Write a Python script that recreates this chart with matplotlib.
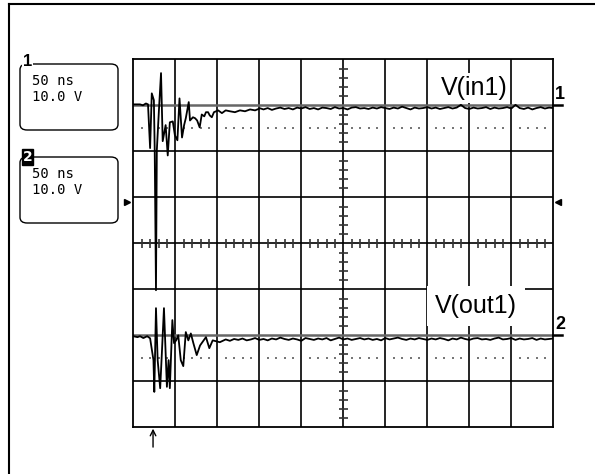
import numpy as np
import matplotlib.pyplot as plt
from matplotlib.patches import FancyBboxPatch
from matplotlib.lines import Line2D

W, H = 595, 474

# scope settings
time_div = 50      # ns / div
volt_div = 10.0    # V / div
n_xdiv = 10
n_ydiv = 8
ch1_offset = 30.0  # V (3 div above centre)
ch2_offset = -20.0 # V (2 div below centre)
ch_labels = ["V(in1)", "V(out1)"]
box_lines = ["50 ns", "10.0 V"]

# channel 1 : ringing part (ns, V)
t1_head = [0, 8, 11.5, 15, 17.5, 20, 22, 24.5, 25.5, 27, 28, 30.5, 33, 35, 38.5,
           41, 43.5, 47, 49.5, 52.5, 55, 58, 60.5, 62.5, 66, 67.5, 71, 73.5, 76,
           79, 81.5, 84.5, 86.5, 89, 91, 93.5, 96, 101, 105.5, 110, 115, 121,
           127, 133, 139, 145, 151]
v1_head = [0.2, 0.2, 0.0, 0.4, 0.2, -9.3, 2.6, 1.1, -9.8, -40.2, -9.8, -1.1, 7.0,
           -7.8, -4.3, -10.9, -3.7, -3.5, -6.5, -7.6, 1.5, -7.0, -4.3, -2.8, 0.7,
           -3.3, -2.6, -2.8, -3.3, -4.8, -2.0, -2.4, -1.5, -1.5, -2.2, -2.6, -1.5,
           -1.1, -1.7, -1.1, -1.3, -1.5, -1.1, -1.3, -0.9, -1.1, -0.65]
# channel 1 : settled part, 5 ns samples from 155 ns
v1_tail = [-0.9, -0.6, -1.0, -0.7, -0.5, -0.8, -0.6, -0.9, -0.5, -0.7,
           -0.4, -0.8, -0.6, -0.9, -0.5, -0.6, -0.8, -0.4, -0.7, -0.6,
           -0.9, -0.5, -0.4, -0.7, -0.6, -0.8, -0.5, -0.7, -0.4, -0.6,
           -0.8, -0.5, -0.7, -0.3, -0.6, -0.9, -0.5, -0.7, -0.6, -0.4,
           -0.7, -0.5, -0.8, -0.6, -0.4, -0.7, -0.5, 0.1, -0.6, -0.8,
           -0.5, -0.7, -0.6, -0.4, -0.8, -0.5, -0.7, -0.6, -0.4, -0.7,
           0.1, -0.6, -0.8, -0.5, -0.9, -0.6, -0.4, -0.7, -0.5, -0.6]

# channel 2 : ringing part
t2_head = [0, 5, 8, 12, 16.5, 20, 24, 25, 27, 29, 32, 34, 36.5, 40, 42, 43.5,
           46.5, 48.5, 51, 53.5, 56.5, 59.5, 62.5, 65.5, 68.5, 71.5, 75.5, 79.5,
           86.5, 90.5, 94.5, 103]
v2_head = [-0.2, -0.4, -0.2, -0.6, -0.2, -0.65, -5.4, -12.3, 5.9, -5.4, -11.5,
           -3.9, 5.9, -11.2, -5.4, -11.5, 3.3, -1.7, -1.1, 0.0, -5.4, -6.7, 0.7,
           -1.1, 0.4, -1.7, -4.3, -2.2, -0.4, -2.8, -1.1, -1.5]
# channel 2 : settled part, 5 ns samples from 110 ns
v2_tail = [-0.9, -1.2, -0.8, -1.0, -0.7, -1.1, -0.9, -0.6, -1.0, -0.8,
           -1.1, -0.7, -0.9, -0.5, -0.8, -1.0, -0.7, -0.9, -1.2, -0.6,
           -0.8, -1.0, -0.7, -0.9, -0.6, -1.1, -0.8, -0.5, -0.9, -0.7,
           -1.0, -0.8, -0.6, -0.9, -0.7, -1.0, -0.8, -1.1, -0.6, -0.9,
           -0.7, -0.5, -0.8, -1.0, -0.7, -0.9, -0.6, -0.8, -1.0, -0.7,
           -0.9, -0.6, -0.8, -1.1, -0.7, -0.9, -0.5, -0.8, -1.0, -0.7,
           -0.6, -0.9, -0.8, -1.0, -0.7, -0.5, -0.9, -0.8, -0.6, -1.0,
           -0.7, -0.9, -0.8, -0.6, -1.0, -0.7, -0.9, -0.8, -0.7]

t1 = np.concatenate([t1_head, np.arange(len(v1_tail)) * 5 + 155])
v1 = np.concatenate([v1_head, v1_tail]) + ch1_offset
t2 = np.concatenate([t2_head, np.arange(len(v2_tail)) * 5 + 110])
v2 = np.concatenate([v2_head, v2_tail]) + ch2_offset

xmax = time_div * n_xdiv
ymax = volt_div * n_ydiv / 2


def fx(px):
    return px / W


def fy(py):
    return 1 - py / H


fig = plt.figure(figsize=(W / 100, H / 100), dpi=100)

# outer frame (only top/left visible)
fig.add_artist(Line2D([fx(9), fx(595)], [fy(4), fy(4)], color='black', lw=1.5))
fig.add_artist(Line2D([fx(9), fx(9)], [fy(4), fy(474)], color='black', lw=1.5))

ax = fig.add_axes([fx(133.3), fy(427.3), 420 / W, 368 / H])
ax.set_xlim(0, xmax)
ax.set_ylim(-ymax, ymax)
ax.set_xticks([])
ax.set_yticks([])
for s in ax.spines.values():
    s.set_linewidth(1.3)
    s.set_zorder(6)

# graticule
for x in np.arange(time_div, xmax, time_div):
    ax.axvline(x, color='black', lw=1.2, zorder=1)
for y in np.arange(-ymax + volt_div, ymax, volt_div):
    if y in (ch1_offset, ch2_offset):
        ax.axhline(y, color='#666666', lw=1.8, zorder=1)
    else:
        ax.axhline(y, color='black', lw=1.2, zorder=1)

# minor ticks on centre axes
mx = [x for x in np.arange(0, xmax + 1, time_div / 5) if x % time_div != 0]
my = [y for y in np.arange(-ymax, ymax + 0.1, volt_div / 5) if y % volt_div != 0]
ax.vlines(mx, -1.0, 1.0, color='#333333', lw=1.2, zorder=1)
ax.hlines(my, xmax / 2 - 5, xmax / 2 + 5, color='#333333', lw=1.2, zorder=1)

# dotted rows half a division under each channel reference
for off in (ch1_offset, ch2_offset):
    ax.scatter(mx, [off - volt_div / 2] * len(mx), s=0.8, color='#777777',
               marker='s', lw=0, zorder=1)

# traces
ax.plot(t1, v1, color='black', lw=1.3, zorder=3)
ax.plot(t2, v2, color='black', lw=1.3, zorder=3)

# channel labels
fig.text(fx(474), fy(88), ch_labels[0], fontsize=18, family='Liberation Sans',
         ha='center', va='center', zorder=5,
         bbox=dict(facecolor='white', edgecolor='none', pad=2))
fig.text(fx(476), fy(306), ch_labels[1], fontsize=18, family='Liberation Sans',
         ha='center', va='center', zorder=5,
         bbox=dict(facecolor='white', edgecolor='none', pad=6))

# channel markers at right
for off, lab in ((ch1_offset, '1'), (ch2_offset, '2')):
    ax.plot([xmax, xmax + 10], [off, off], color='black', lw=1.8, clip_on=False)
    ax.text(xmax + 2, off + 0.4, lab, fontsize=13, family='Liberation Sans',
            weight='bold', ha='left', va='bottom')

# trigger level arrows
ax.plot([-7], [9], marker='>', color='black', ms=5, clip_on=False)
ax.plot([xmax + 5], [9], marker='<', color='black', ms=5, clip_on=False)

# trigger position arrow below
ax.annotate('', xy=(23.5, -ymax - 0.3), xytext=(23.5, -ymax - 4.3),
            xycoords='data', annotation_clip=False,
            arrowprops=dict(arrowstyle='->', color='black', lw=1.0,
                            shrinkA=0, shrinkB=0))

# channel info boxes
for top, lab in ((64, '1'), (157, '2')):
    box = FancyBboxPatch((fx(20), fy(top + 66)), 98 / W, 66 / H,
                         boxstyle='round,pad=0,rounding_size=0.012',
                         transform=fig.transFigure, facecolor='white',
                         edgecolor='black', lw=1.0)
    fig.add_artist(box)
    if lab == '1':
        fig.text(fx(27.5), fy(top - 2), lab, fontsize=12, ha='center', va='center',
                 family='Liberation Sans', weight='bold',
                 bbox=dict(facecolor='white', edgecolor='none', pad=0.5))
    else:
        fig.text(fx(27.5), fy(top), lab, fontsize=10, ha='center', va='center',
                 family='DejaVu Sans', weight='bold', color='white',
                 bbox=dict(facecolor='black', edgecolor='black', pad=0.4))
    fig.text(fx(32), fy(top + 17), box_lines[0], fontsize=10,
             family='DejaVu Sans Mono', ha='left', va='center')
    fig.text(fx(32), fy(top + 33), box_lines[1], fontsize=10,
             family='DejaVu Sans Mono', ha='left', va='center')

fig.savefig('out.png', dpi=100)
